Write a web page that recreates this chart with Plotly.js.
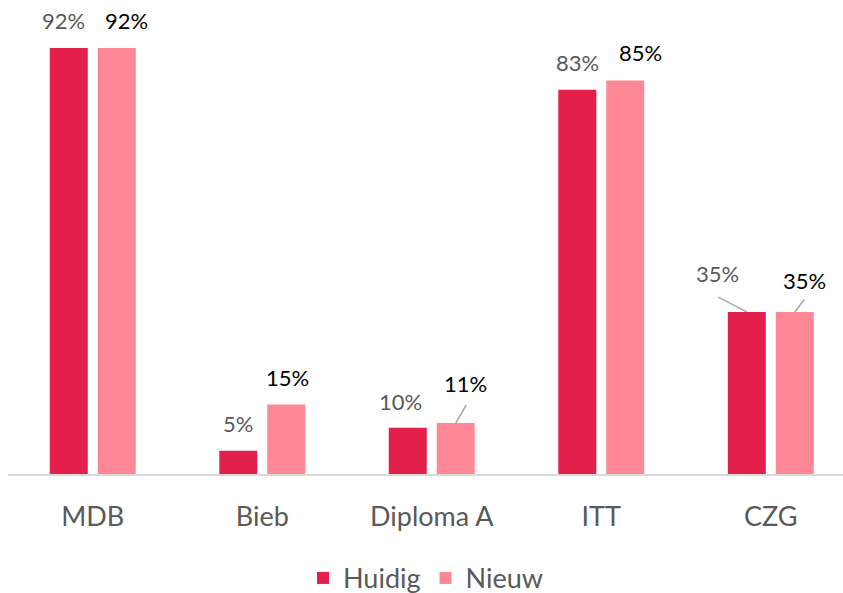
<!DOCTYPE html>
<html>
<head>
<meta charset="utf-8">
<script src="https://cdn.plot.ly/plotly-3.0.1.min.js"></script>
<style>html,body{margin:0;padding:0;background:#fff;}#chart{width:843px;height:593px;}</style>
</head>
<body>
<div id="chart"></div>
<script>
const categories = ["MDB", "Bieb", "Diploma A", "ITT", "CZG"];
const huidig = [92, 5, 10, 83, 35];
const nieuw = [92, 15, 11, 85, 35];
const huidigLabels = ["92%", "5%", "10%", "83%", "35%"];
const nieuwLabels = ["92%", "15%", "11%", "85%", "35%"];

const colHuidig = "#E31F4B";
const colNieuw = "#FF8896";
const font = "Lato, 'Open Sans', sans-serif";

const traces = [
  {type: "bar", name: "Huidig", x: categories, y: huidig, marker: {color: colHuidig}, hoverinfo: "none"},
  {type: "bar", name: "Nieuw", x: categories, y: nieuw, marker: {color: colNieuw}, hoverinfo: "none"}
];

// label placement (pixel offsets only): [dx, dy, leader, leaderAx, leaderAy]
const hOff = [[-5, 0], [0, 0], [-7.5, -1], [0, 0], [-29, 11, true, -29, -15]];
const nOff = [[10, 0], [1, 0], [9.5, 12, true, 11, -19], [15, 0], [9.5, 4, true, 10, -13]];

const annotations = [];
function addLabels(vals, labels, offs, shift, color) {
  vals.forEach((v, i) => {
    const o = offs[i];
    annotations.push({x: categories[i], y: v, xref: "x", yref: "y", text: labels[i],
      showarrow: false, yanchor: "bottom", xshift: shift + o[0], yshift: 12 + o[1],
      font: {family: font, size: 22, color: color}});
    if (o[2]) {
      annotations.push({x: categories[i], y: v, xref: "x", yref: "y", text: " ",
        showarrow: true, arrowhead: 0, arrowwidth: 1.5, arrowcolor: "#A6A6A6",
        ax: o[3], ay: o[4], xshift: shift, standoff: 0, startstandoff: 0,
        borderpad: 0, font: {family: font, size: 1, color: color}});
    }
  });
}
addLabels(huidig, huidigLabels, hOff, -24, "#595959");
addLabels(nieuw, nieuwLabels, nOff, 24, "#000000");

const layout = {
  width: 843, height: 593,
  margin: {l: 8, r: 0, t: 10, b: 119, autoexpand: false},
  paper_bgcolor: "#fff", plot_bgcolor: "#fff",
  barmode: "group", bargap: 0.434, bargroupgap: 0.208,
  showlegend: true,
  legend: {orientation: "h", x: 0.5, xanchor: "center", y: -0.225, yanchor: "middle",
    font: {family: font, size: 27, color: "#595959"}, itemwidth: 30, traceorder: "normal"},
  xaxis: {type: "category", range: [-0.5, 4.426], showgrid: false, zeroline: false,
    showline: true, linecolor: "#D9D9D9", linewidth: 2, ticks: "", ticklabelstandoff: 18,
    tickfont: {family: font, size: 27, color: "#595959"}},
  yaxis: {range: [0, 100.2], visible: false, showgrid: false, zeroline: false},
  annotations: annotations
};

Plotly.newPlot("chart", traces, layout, {displayModeBar: false, staticPlot: true});
</script>
</body>
</html>
